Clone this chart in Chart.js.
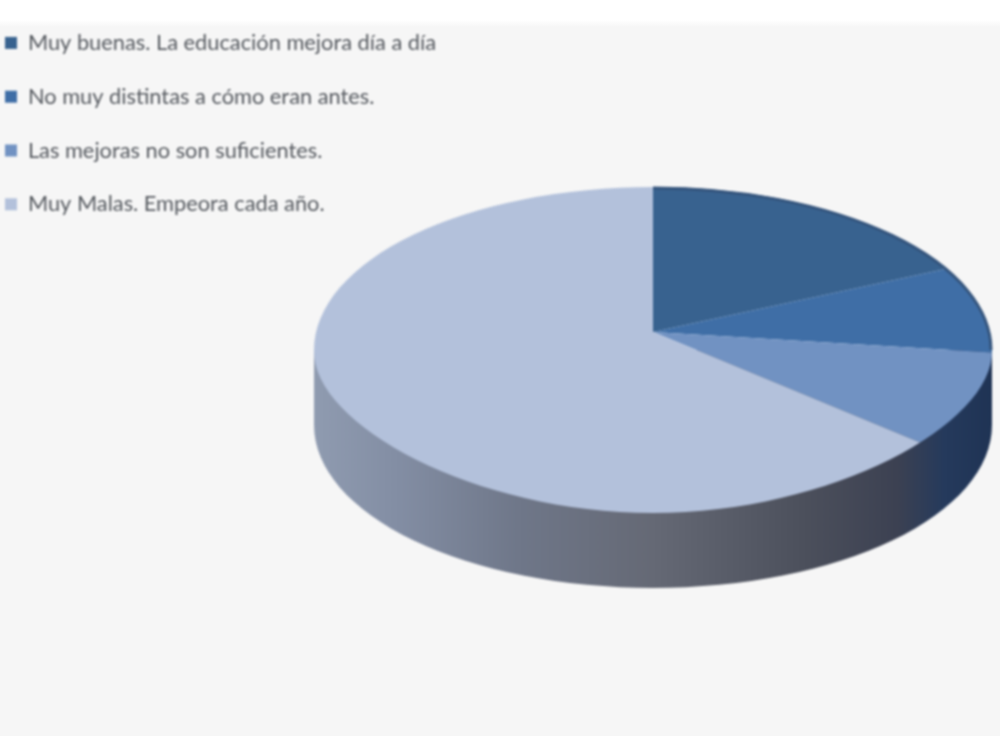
<!DOCTYPE html>
<html lang="es">
<head>
<meta charset="utf-8">
<title>Opinión sobre la educación</title>
<script src="https://cdn.jsdelivr.net/npm/chart.js@4"></script>
<style>
    html, body { margin: 0; background: #fff; }
    #wrap { width: 1000px; height: 736px; overflow: hidden; background: linear-gradient(#fff 0, #fff 20px, #f6f6f6 27px); }
    canvas { display: block; filter: blur(1px); }
</style>
</head>
<body>
<div id="wrap"><canvas id="pie" width="1000" height="736"></canvas></div>
<script>
// Percent of the pie.
const categories = [
    "Muy buenas. La educación mejora día a día",
    "No muy distintas a cómo eran antes.",
    "Las mejoras no son suficientes.",
    "Muy Malas. Empeora cada año.",
];
const shares = [18.3, 8.7, 9.3, 63.7];
const sliceColors = ["#38628f", "#3f6ea6", "#7192c2", "#b3c1db"];

// Chart.js has no 3D pie, so the plugin squashes the library's arcs into the
// tilted disc and paints the rim underneath.
const DISC = { x: 653, y: 350, rx: 339, ry: 163, tipY: 332, depth: 75 };
const TILT = DISC.ry / DISC.rx;

function sideGradient(ctx) {
    const g = ctx.createLinearGradient(DISC.x - DISC.rx, 0, DISC.x + DISC.rx, 0);
    g.addColorStop(0, "#8f9bb0");
    g.addColorStop(0.12, "#838ea4");
    g.addColorStop(0.3, "#6f7789");
    g.addColorStop(0.5, "#656975");
    g.addColorStop(0.72, "#4c505c");
    g.addColorStop(0.86, "#3c4152");
    g.addColorStop(0.93, "#253a5c");
    g.addColorStop(1, "#1f3354");
    return g;
}

// The disc's front edge bulges a bit past a true ellipse near its ends.
function discPath(ctx) {
    const { x, y, rx, ry } = DISC;
    ctx.beginPath();
    ctx.ellipse(x, y, rx, ry, 0, Math.PI, 0);
    ctx.bezierCurveTo(x + rx + 2, y + 75, x + 177, y + ry, x, y + ry);
    ctx.bezierCurveTo(x - 177, y + ry, x - rx - 2, y + 75, x - rx, y);
    ctx.closePath();
}

const tiltedDisc = {
    id: "tiltedDisc",
    afterLayout(chart) {
        // keep the tall row spacing without the indent that comes with it
        chart.legend.left = -27;
        chart.legend.top = 0;
    },
    beforeDatasetsDraw(chart) {
        const { ctx } = chart;
        const arc = chart.getDatasetMeta(0).data[0];

        // rim: runs up behind the disc, which paints over the top of it
        ctx.save();
        ctx.fillStyle = sideGradient(ctx);
        ctx.beginPath();
        ctx.ellipse(DISC.x, DISC.y + DISC.depth, DISC.rx, DISC.ry, 0, 0, Math.PI);
        ctx.lineTo(DISC.x - DISC.rx, DISC.y);
        ctx.lineTo(DISC.x + DISC.rx, DISC.y);
        ctx.closePath();
        ctx.fill();
        ctx.restore();

        ctx.save();
        discPath(ctx);
        ctx.clip();
        ctx.translate(DISC.x, DISC.tipY);
        ctx.scale(1, TILT);
        ctx.translate(-arc.x, -arc.y);
    },
    afterDatasetsDraw(chart) {
        const { ctx } = chart;
        ctx.restore();
        // dark lip along the blue slices
        ctx.save();
        ctx.strokeStyle = "#34547c";
        ctx.lineWidth = 3;
        ctx.beginPath();
        ctx.ellipse(DISC.x, DISC.y, DISC.rx - 1, DISC.ry - 1, 0, -Math.PI / 2, 0);
        ctx.stroke();
        ctx.restore();
    },
};

new Chart(document.getElementById("pie"), {
    type: "pie",
    data: {
        labels: categories,
        datasets: [{
            data: shares,
            backgroundColor: sliceColors,
            borderWidth: 0,
            clip: false,
        }],
    },
    options: {
        responsive: false,
        animation: false,
        radius: 420,
        events: [],
        plugins: {
            tooltip: { enabled: false },
            legend: {
                position: "left",
                align: "start",
                labels: {
                    boxWidth: 12,
                    boxHeight: 12,
                    padding: 32,
                    color: "#55595f",
                    font: { family: "Lato", size: 21.8 },
                },
            },
        },
    },
    plugins: [tiltedDisc],
});
</script>
</body>
</html>
